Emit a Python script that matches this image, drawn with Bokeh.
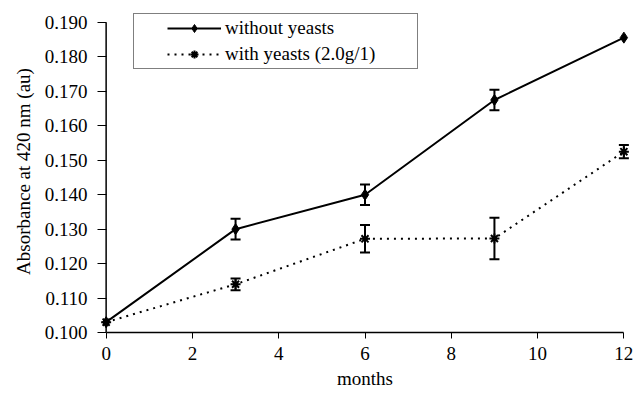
from bokeh.plotting import figure
from bokeh.models import Range1d, FixedTicker, NumeralTickFormatter, Whisker, TeeHead, ColumnDataSource, Legend, LegendItem
from bokeh.embed import file_html
from bokeh.resources import INLINE

months = [0, 3, 6, 9, 12]
without_yeasts = [0.103, 0.130, 0.1400, 0.1675, 0.1856]
without_err = [0.0, 0.003, 0.003, 0.003, 0.0]
with_yeasts = [0.103, 0.114, 0.1272, 0.1273, 0.1525]
with_err = [0.0, 0.0017, 0.004, 0.006, 0.0019]

x_ticks = [0, 2, 4, 6, 8, 10, 12]
y_ticks = [0.100, 0.110, 0.120, 0.130, 0.140, 0.150, 0.160, 0.170, 0.180, 0.190]

FONT = "Liberation Serif"
FS = "19px"

p = figure(output_backend="svg", toolbar_location=None,
           frame_width=535, frame_height=322,
           min_border_left=97, min_border_top=10, min_border_right=3, min_border_bottom=58,
           x_range=Range1d(-0.2, 12.2), y_range=Range1d(0.100, 0.19348))
p.xgrid.visible = False
p.ygrid.visible = False
p.outline_line_color = None
p.background_fill_color = "white"
p.border_fill_color = "white"

for ax in (p.xaxis[0], p.yaxis[0]):
    ax.major_label_text_font = FONT
    ax.major_label_text_font_size = FS
    ax.major_label_text_color = "black"
    ax.axis_label_text_font = FONT
    ax.axis_label_text_font_size = FS
    ax.axis_label_text_font_style = "normal"
    ax.axis_label_text_color = "black"
    ax.minor_tick_line_color = None
    ax.major_tick_line_color = "black"
    ax.axis_line_width = 1.5

p.xaxis.major_tick_in = 0
p.xaxis.major_tick_out = 6
p.xaxis.axis_line_color = "black"
p.xaxis.bounds = (x_ticks[0], x_ticks[-1])
# y axis: ticks reach from frame edge to x = 0, where the axis line is drawn
p.yaxis.major_tick_in = 9
p.yaxis.major_tick_out = 0
p.yaxis.axis_line_color = None
p.yaxis.bounds = (y_ticks[0], y_ticks[-1])
p.xaxis.ticker = FixedTicker(ticks=x_ticks)
p.yaxis.ticker = FixedTicker(ticks=y_ticks)
p.yaxis.formatter = NumeralTickFormatter(format="0.000")
p.xaxis.axis_label = "months"
p.yaxis.axis_label = "Absorbance at 420 nm (au)"
p.xaxis.major_label_standoff = 8
p.yaxis.major_label_standoff = 10
p.xaxis.axis_label_standoff = 5
p.yaxis.axis_label_standoff = 8

p.segment(x0=[x_ticks[0]], y0=[y_ticks[0]], x1=[x_ticks[0]], y1=[y_ticks[-1]],
          line_color="black", line_width=1.5)

def err_src(xs, ys, es):
    sx, lo, hi = [], [], []
    for x, y, e in zip(xs, ys, es):
        if e > 0:
            sx.append(x); lo.append(y - e); hi.append(y + e)
    return ColumnDataSource(dict(x=sx, lower=lo, upper=hi))

for xs, ys, es in ((months, without_yeasts, without_err), (months, with_yeasts, with_err)):
    w = Whisker(source=err_src(xs, ys, es), base="x", lower="lower", upper="upper",
                line_color="black", line_width=2,
                upper_head=TeeHead(size=10, line_color="black", line_width=2),
                lower_head=TeeHead(size=10, line_color="black", line_width=2))
    p.add_layout(w)

l1 = p.line(months, without_yeasts, line_color="black", line_width=2)
m1 = p.scatter(months, without_yeasts, marker="diamond", size=11, fill_color="black", line_color="black")
l2 = p.line(months, with_yeasts, line_color="black", line_width=2, line_dash="2 5")
m2 = p.scatter(months, with_yeasts, marker="asterisk", size=10, line_color="black", line_width=2)

legend = Legend(items=[LegendItem(label="without yeasts", renderers=[l1, m1]),
                       LegendItem(label="with yeasts (2.0g/1)", renderers=[l2, m2])],
                location=(36, 263))
legend.label_text_font = FONT
legend.label_text_font_size = FS
legend.label_text_color = "black"
legend.border_line_color = "black"
legend.border_line_width = 1
legend.glyph_width = 54
legend.glyph_height = 20
legend.label_height = 22
legend.spacing = 4
legend.padding = 3
legend.margin = 0
legend.label_standoff = 4
legend.label_width = 189
legend.title = " "
legend.title_location = "left"
legend.title_text_font_size = "2px"
legend.title_standoff = 28
p.add_layout(legend, "center")

open("out.html", "w").write(file_html(p, INLINE))
